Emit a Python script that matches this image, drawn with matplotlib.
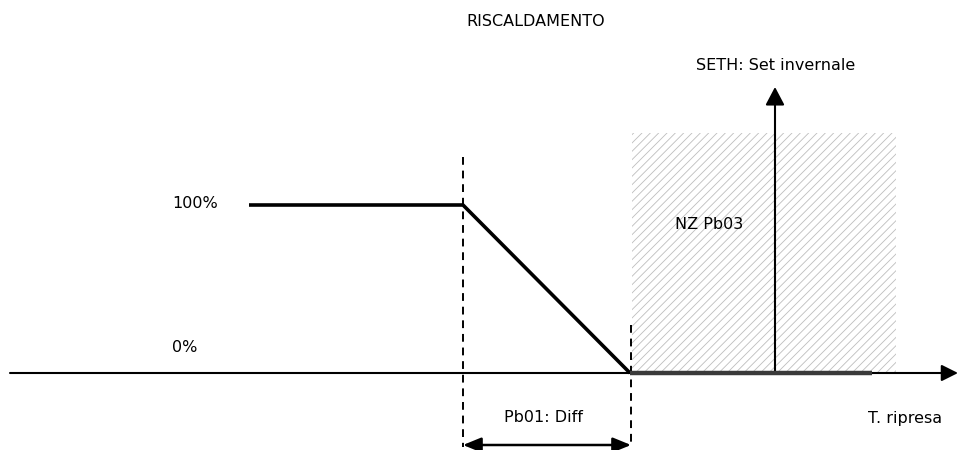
import matplotlib
matplotlib.use("Agg")
import matplotlib.pyplot as plt
from matplotlib.patches import Rectangle

# ---- data (x in diagram units, y in % of output) ----
curve_x = [249, 463, 630]          # start, Pb01 start, end of proportional band
curve_pct = [100, 100, 0]
nz_x = [630, 872]                  # neutral zone output line
nz_pct = [0, 0]
zone_x = [632, 896]                # hatched neutral zone extent
zone_top_pct = 143
seth_x = 775
diff_x = [463, 631]
level_labels = ["100%", "0%"]
title = "RISCALDAMENTO"

PX0 = 373.0   # pixel row of 0 %
K = 1.68      # pixels per %
def v(py):
    return (PX0 - py) / K

plt.rcParams["hatch.linewidth"] = 0.6

fig = plt.figure(figsize=(9.58, 4.5), dpi=100)
ax = fig.add_axes([0, 0, 1, 1])
ax.set_xlim(0, 958)
ax.set_ylim(v(450), v(0))
ax.axis("off")

FS = 11.5
black = "black"

# hatched neutral zone
ax.add_patch(Rectangle((zone_x[0], 0), zone_x[1] - zone_x[0], zone_top_pct,
                       facecolor="white", edgecolor="#bdbdbd", linewidth=0,
                       hatch="////", zorder=1))

# horizontal axis with arrow
ax.annotate("", xy=(958, 0), xytext=(10, 0),
            arrowprops=dict(arrowstyle="-|>,head_length=1.0,head_width=0.5",
                            lw=1.5, color=black, shrinkA=0, shrinkB=0), zorder=3)

# heating curve
ax.plot(curve_x, curve_pct, color=black, lw=2.6, solid_capstyle="butt", zorder=4)
ax.plot(nz_x, nz_pct, color="#3a3a3a", lw=3.2, solid_capstyle="butt", zorder=4)

# dashed verticals
ax.plot([diff_x[0], diff_x[0]], [v(157), v(447)], color=black, lw=1.4,
        ls=(0, (4, 3)), zorder=3)
ax.plot([diff_x[1], diff_x[1]], [v(325), v(447)], color=black, lw=1.4,
        ls=(0, (4, 3)), zorder=3)

# double arrow Pb01
ax.annotate("", xy=(diff_x[1], v(445)), xytext=(diff_x[0], v(445)),
            arrowprops=dict(arrowstyle="<|-|>,head_length=1.1,head_width=0.45",
                            lw=1.8, color=black, shrinkA=0, shrinkB=0), zorder=3)

# SETH vertical arrow
ax.annotate("", xy=(seth_x, v(87)), xytext=(seth_x, 0),
            arrowprops=dict(arrowstyle="-|>,head_length=1.1,head_width=0.58",
                            lw=1.5, color=black, shrinkA=0, shrinkB=0), zorder=3)

# texts
ax.text(535.5, v(21), title, ha="center", va="center", fontsize=FS)
ax.text(776, v(66), "SETH: Set invernale", ha="center", va="center", fontsize=FS)
ax.text(709, v(225), "NZ Pb03", ha="center", va="center", fontsize=FS)
ax.text(195, v(204), level_labels[0], ha="center", va="center", fontsize=FS)
ax.text(184.5, v(347), level_labels[1], ha="center", va="center", fontsize=FS)
ax.text(543, v(418), "Pb01: Diff", ha="center", va="center", fontsize=FS)
ax.text(905.5, v(418), "T. ripresa", ha="center", va="center", fontsize=FS)

fig.savefig("out.png", dpi=100, facecolor="white")
